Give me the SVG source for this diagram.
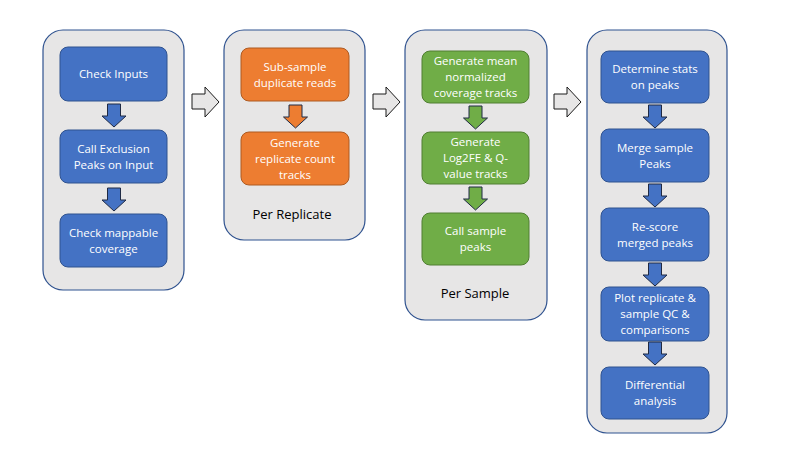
<svg xmlns="http://www.w3.org/2000/svg" width="800" height="450" viewBox="0 0 800 450">
<style>
.panel{fill:#E7E6E6;stroke:#2F528F;stroke-width:1.2}
.blue{fill:#4472C4;stroke:#2F528F;stroke-width:1}
.orange{fill:#ED7D31;stroke:#AE5A21;stroke-width:1}
.green{fill:#70AD47;stroke:#507E32;stroke-width:1}
.t{font-family:"Open Sans","Liberation Sans",sans-serif;font-size:11.5px;fill:#FFFFFF;text-anchor:middle}
.lbl{font-family:"Open Sans","Liberation Sans",sans-serif;font-size:13px;fill:#000000;text-anchor:middle}
.da{stroke:#1F2A44;stroke-width:1;stroke-linejoin:miter}
.ha{fill:#E7E6E6;stroke:#1A1A1A;stroke-width:1}
</style>
<rect width="800" height="450" fill="#FFFFFF"/>

<g id="panel-1">
<rect class="panel" x="43" y="30" width="141" height="260" rx="20"/>
</g>
<g id="panel-2">
<rect class="panel" x="224" y="30" width="141" height="210" rx="20"/>
<text class="lbl" x="292" y="219">Per Replicate</text>
</g>
<g id="panel-3">
<rect class="panel" x="405" y="30" width="142" height="290" rx="20"/>
<text class="lbl" x="475" y="298">Per Sample</text>
</g>
<g id="panel-4">
<rect class="panel" x="587" y="30" width="140" height="403" rx="20"/>
</g>

<g id="check-inputs">
<rect class="blue" x="60" y="47" width="107" height="54" rx="8"/>
<text class="t" x="113.5" y="78">Check Inputs</text>
</g>
<g id="call-exclusion">
<rect class="blue" x="60" y="130" width="107" height="53" rx="8"/>
<text class="t" x="113.5" y="152.5">Call Exclusion</text>
<text class="t" x="113.5" y="168.5">Peaks on Input</text>
</g>
<g id="check-mappable">
<rect class="blue" x="60" y="214" width="107" height="53" rx="8"/>
<text class="t" x="113.5" y="236.5">Check mappable</text>
<text class="t" x="113.5" y="252.5">coverage</text>
</g>

<g id="subsample">
<rect class="orange" x="241" y="48" width="108" height="53" rx="8"/>
<text class="t" x="295" y="70.5">Sub-sample</text>
<text class="t" x="295" y="86.5">duplicate reads</text>
</g>
<g id="replicate-count">
<rect class="orange" x="241" y="132" width="108" height="53" rx="8"/>
<text class="t" x="295" y="146.5">Generate</text>
<text class="t" x="295" y="162.5">replicate count</text>
<text class="t" x="295" y="178.5">tracks</text>
</g>

<g id="mean-coverage">
<rect class="green" x="422" y="51" width="107" height="52" rx="8"/>
<text class="t" x="475.5" y="65">Generate mean</text>
<text class="t" x="475.5" y="81">normalized</text>
<text class="t" x="475.5" y="97">coverage tracks</text>
</g>
<g id="log2fe">
<rect class="green" x="422" y="132" width="107" height="52" rx="8"/>
<text class="t" x="475.5" y="146">Generate</text>
<text class="t" x="475.5" y="162">Log2FE &amp; Q-</text>
<text class="t" x="475.5" y="178">value tracks</text>
</g>
<g id="call-sample-peaks">
<rect class="green" x="422" y="213" width="107" height="52" rx="8"/>
<text class="t" x="475.5" y="235">Call sample</text>
<text class="t" x="475.5" y="251">peaks</text>
</g>

<g id="determine-stats">
<rect class="blue" x="601" y="51" width="108" height="52" rx="8"/>
<text class="t" x="655" y="73">Determine stats</text>
<text class="t" x="655" y="89">on peaks</text>
</g>
<g id="merge-peaks">
<rect class="blue" x="601" y="129" width="108" height="53" rx="8"/>
<text class="t" x="655" y="151.5">Merge sample</text>
<text class="t" x="655" y="167.5">Peaks</text>
</g>
<g id="rescore">
<rect class="blue" x="601" y="208" width="108" height="53" rx="8"/>
<text class="t" x="655" y="230.5">Re-score</text>
<text class="t" x="655" y="246.5">merged peaks</text>
</g>
<g id="plot-qc">
<rect class="blue" x="601" y="287" width="108" height="54" rx="8"/>
<text class="t" x="655" y="302">Plot replicate &amp;</text>
<text class="t" x="655" y="318">sample QC &amp;</text>
<text class="t" x="655" y="334">comparisons</text>
</g>
<g id="differential">
<rect class="blue" x="601" y="367" width="108" height="52" rx="8"/>
<text class="t" x="655" y="389">Differential</text>
<text class="t" x="655" y="405">analysis</text>
</g>

<g id="connectors">
<polygon class="da" fill="#4472C4" points="107.5,104 120.5,104 120.5,116 126,116 114,127 102,116 107.5,116"/>
<polygon class="da" fill="#4472C4" points="107.5,188 120.5,188 120.5,200 126,200 114,211 102,200 107.5,200"/>
<polygon class="da" fill="#ED7D31" points="289,105 302,105 302,117 307.5,117 295.5,128 283.5,117 289,117"/>
<polygon class="da" fill="#70AD47" points="469,106 482,106 482,118 487.5,118 475.5,129 463.5,118 469,118"/>
<polygon class="da" fill="#70AD47" points="469,187 482,187 482,199 487.5,199 475.5,210 463.5,199 469,199"/>
<polygon class="da" fill="#4472C4" points="648.5,105 661.5,105 661.5,117 667,117 655,128 643,117 648.5,117"/>
<polygon class="da" fill="#4472C4" points="648.5,184 661.5,184 661.5,196 667,196 655,207 643,196 648.5,196"/>
<polygon class="da" fill="#4472C4" points="648.5,263 661.5,263 661.5,275 667,275 655,286 643,275 648.5,275"/>
<polygon class="da" fill="#4472C4" points="648.5,342 661.5,342 661.5,354 667,354 655,365 643,354 648.5,354"/>
<polygon class="ha" points="192,94 205,94 205,87 219,102 205,117 205,109 192,109"/>
<polygon class="ha" points="373,94 386,94 386,87 400,102 386,117 386,109 373,109"/>
<polygon class="ha" points="554,94 567,94 567,87 581,102 567,117 567,109 554,109"/>
</g>
</svg>
